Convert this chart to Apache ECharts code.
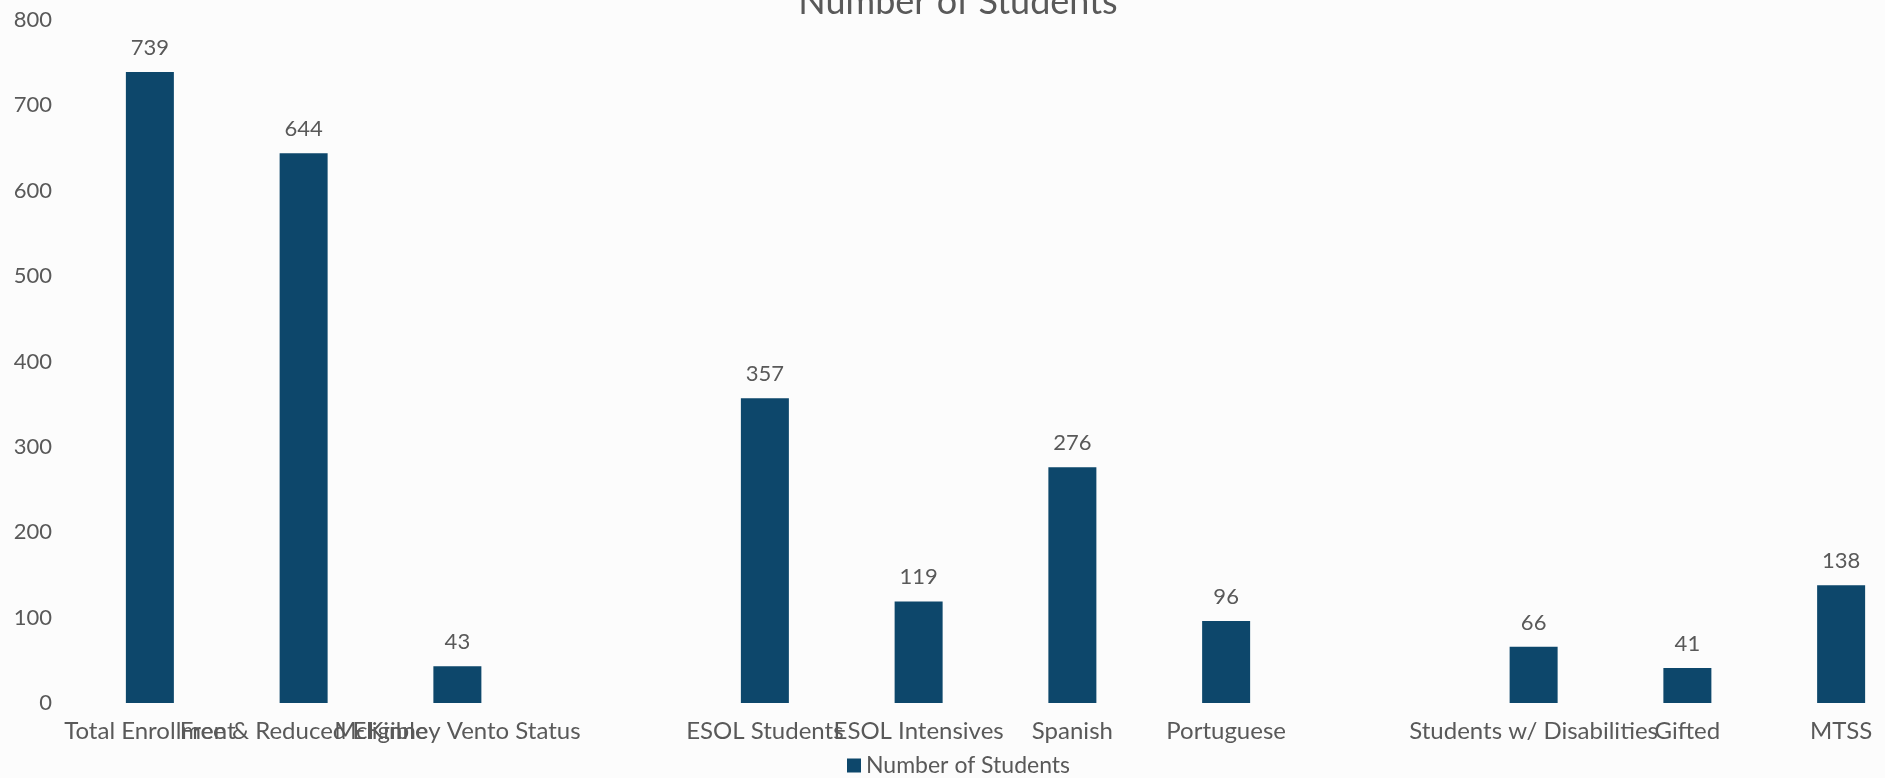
<!DOCTYPE html>
<html>
<head>
<meta charset="utf-8">
<title>Number of Students</title>
<script src="https://cdn.jsdelivr.net/npm/echarts@6/dist/echarts.min.js"></script>
<style>
    html, body { margin: 0; padding: 0; background: #fcfcfc; overflow: hidden; }
    /* the plot runs a little past the right edge of the window, as in the source image */
    #students-bar { width: 1918px; height: 778px; }
</style>
</head>
<body>
<div id="students-bar"></div>
<script>
// chart data
var categories = [
    'Total Enrollment', 'Free & Reduced Eligible', 'McKinney Vento Status', ' ',
    'ESOL Students', 'ESOL Intensives', 'Spanish', 'Portuguese', '  ',
    'Students w/ Disabilities', 'Gifted', 'MTSS'
];
var studentCounts = [739, 644, 43, null, 357, 119, 276, 96, null, 66, 41, 138];
var yTicks = [0, 100, 200, 300, 400, 500, 600, 700, 800];
var seriesName = 'Number of Students';

(function (echarts) {
    var chartElement = document.getElementById('students-bar');
    if (!chartElement) {
        console.error('Chart container not found.');
        return;
    }

    var textColor = '#595959';
    var fontName = 'Lato';

    var studentsChart = echarts.init(chartElement);

    var option = {
        backgroundColor: '#fcfcfc',
        animation: false,
        title: {
            text: 'Number of Students',
            left: 953,
            textAlign: 'center',
            top: -21,
            textStyle: {
                fontFamily: fontName,
                fontSize: 36,
                fontWeight: 'normal',
                color: textColor
            }
        },
        legend: {
            data: [seriesName],
            left: 842,
            top: 749,
            icon: 'rect',
            itemWidth: 14,
            itemHeight: 14,
            itemGap: 8,
            textStyle: {
                fontFamily: fontName,
                fontSize: 23,
                color: textColor
            }
        },
        grid: {
            left: 73,
            right: 0,
            top: 20,
            bottom: 75,
            containLabel: false
        },
        xAxis: {
            type: 'category',
            data: categories,
            axisLine: { show: false },
            axisTick: { show: false },
            axisLabel: {
                interval: 0,
                margin: 16,
                fontFamily: fontName,
                fontSize: 24,
                color: textColor
            }
        },
        yAxis: {
            type: 'value',
            min: yTicks[0],
            max: yTicks[yTicks.length - 1],
            interval: yTicks[1] - yTicks[0],
            splitLine: { show: false },
            axisLine: { show: false },
            axisTick: { show: false },
            axisLabel: {
                margin: 21,
                fontFamily: fontName,
                fontSize: 22,
                color: textColor
            }
        },
        color: ['#0d476b'],
        series: [{
            name: seriesName,
            type: 'bar',
            barWidth: 48,
            data: studentCounts,
            label: {
                show: true,
                position: 'top',
                distance: 13,
                fontFamily: fontName,
                fontSize: 22,
                color: textColor
            }
        }]
    };

    studentsChart.setOption(option);

    window.addEventListener('resize', function () {
        studentsChart.resize();
    });
})(echarts);
</script>
</body>
</html>
